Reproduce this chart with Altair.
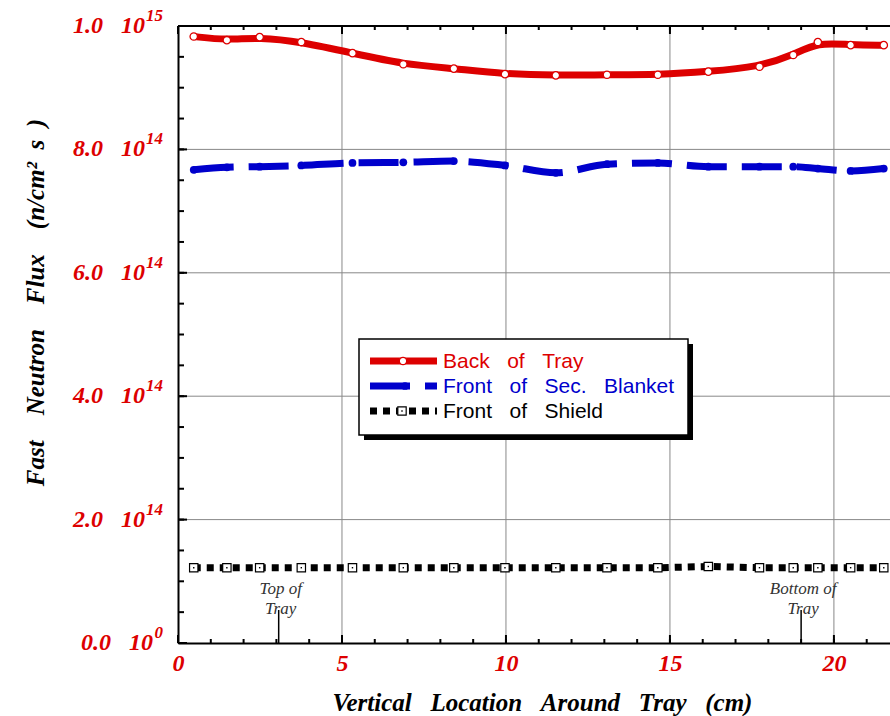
import altair as alt
import pandas as pd

# ---------------- data ----------------
x_pos = [0.48, 1.49, 2.49, 3.76, 5.32, 6.87, 8.41, 9.97, 11.52, 13.08,
         14.63, 16.17, 17.73, 18.76, 19.51, 20.51, 21.52]
# flux in units of 1e14 n/cm^2 s
back_tray = [9.83, 9.77, 9.82, 9.74, 9.56, 9.38, 9.31, 9.22, 9.20, 9.21,
             9.21, 9.26, 9.34, 9.53, 9.74, 9.69, 9.69]
front_blanket = [7.67, 7.71, 7.72, 7.74, 7.78, 7.79, 7.81, 7.74, 7.62, 7.76,
                 7.78, 7.72, 7.72, 7.72, 7.69, 7.65, 7.69]
front_shield = [1.22, 1.22, 1.22, 1.22, 1.22, 1.22, 1.22, 1.22, 1.22, 1.22,
                1.22, 1.24, 1.22, 1.22, 1.22, 1.22, 1.22]

NB2 = "\u00a0\u00a0"
NB3 = "\u00a0\u00a0\u00a0"
NB4 = "\u00a0\u00a0\u00a0\u00a0"
series_names = ["Back" + NB3 + "of" + NB3 + "Tray",
                "Front" + NB3 + "of" + NB3 + "Sec." + NB3 + "Blanket",
                "Front" + NB3 + "of" + NB3 + "Shield"]
series_colors = ["#dd0000", "#0000cc", "#000000"]

x_major = [0, 5, 10, 15, 20]
x_minor = [0, 1, 2, 3, 4, 5, 6, 7, 8, 9, 10, 11, 12, 13, 14, 15, 16, 17, 18, 19, 20, 21]
x_grid = [5, 10, 15, 20]
y_major = [0, 2, 4, 6, 8, 10]
y_mant = ["0.0", "2.0", "4.0", "6.0", "8.0", "1.0"]
y_exp = ["0", "14", "14", "14", "14", "15"]
y_minor = [0, 0.5, 1, 1.5, 2, 2.5, 3, 3.5, 4, 4.5, 5, 5.5, 6, 6.5, 7, 7.5, 8, 8.5,
           9, 9.5, 10]
y_grid = [2, 4, 6, 8]

ann_x = [3.07, 19.0]
ann_line1 = ["Top of", "Bottom of"]
ann_line2 = ["Tray", "Tray"]

x_title = "Vertical" + NB3 + "Location" + NB3 + "Around" + NB3 + "Tray" + NB3 + "(cm)"
y_title = "Fast" + NB4 + "Neutron" + NB4 + "Flux" + NB4 + "(n/cm\u00b2" + NB2 + "s" + NB2 + ")"

W, H = 712, 617
SERIF = "Liberation Serif"
SANS = "Liberation Sans"
RED = "#dd0000"

# ---------------- scales / axes ----------------
xscale = alt.Scale(domain=[0, 21.71], nice=False, zero=False)
yscale = alt.Scale(domain=[0, 10], nice=False, zero=False)

xaxis = alt.Axis(values=x_major, ticks=False, grid=False, domainColor="black",
                 domainWidth=2, labelFont=SERIF, labelFontSize=24,
                 labelFontStyle="italic", labelFontWeight="bold", labelColor=RED,
                 labelPadding=8, labelFlush=False, title=x_title, titleFont=SERIF,
                 titleFontSize=25, titleFontStyle="italic", titleFontWeight="bold",
                 titleColor="black", titleX=364, titleY=67, titleAlign="center",
                 titleBaseline="alphabetic", titleAnchor="middle")
yaxis = alt.Axis(values=y_major, labels=False, ticks=False, grid=False,
                 domainColor="black", domainWidth=2,
                 title=y_title, titleFont=SERIF,
                 titleFontSize=25, titleFontStyle="italic", titleFontWeight="bold",
                 titleColor="black", titleX=-135, titleY=276, titleAngle=-90,
                 titleAlign="center", titleBaseline="alphabetic")

X = alt.X("x:Q", scale=xscale, axis=xaxis)
Y = alt.Y("y:Q", scale=yscale, axis=yaxis)

one = alt.Data(values=[{"a": 0}])

# ---------------- grid & ticks ----------------
vgrid = alt.Chart(pd.DataFrame({"x": x_grid})).mark_rule(color="#888888", strokeWidth=1).encode(x=X)
hgrid = alt.Chart(pd.DataFrame({"y": y_grid})).mark_rule(color="#888888", strokeWidth=1).encode(y=Y)

df_xmin = pd.DataFrame({"x": x_minor})
df_xmaj = pd.DataFrame({"x": x_major})
df_ymin = pd.DataFrame({"y": y_minor})
df_ymaj = pd.DataFrame({"y": y_major})

tick_style = dict(color="black", strokeWidth=2)
bot_min = alt.Chart(df_xmin).mark_rule(**tick_style).encode(x=X, y=alt.value(H), y2=alt.value(H - 4))
bot_maj = alt.Chart(df_xmaj).mark_rule(**tick_style).encode(x=X, y=alt.value(H), y2=alt.value(H - 8))
top_min = alt.Chart(df_xmin).mark_rule(**tick_style).encode(x=X, y=alt.value(0), y2=alt.value(4))
top_maj = alt.Chart(df_xmaj).mark_rule(**tick_style).encode(x=X, y=alt.value(0), y2=alt.value(8))
left_min = alt.Chart(df_ymin).mark_rule(**tick_style).encode(y=Y, x=alt.value(0), x2=alt.value(6))
left_maj = alt.Chart(df_ymaj).mark_rule(**tick_style).encode(y=Y, x=alt.value(0), x2=alt.value(9))
top_line = alt.Chart(one).mark_rule(color="black", strokeWidth=2).encode(
    x=alt.value(0), x2=alt.value(W), y=alt.value(0))

# y tick labels: mantissa x 10 with a raised exponent
df_ylab = pd.DataFrame({"y": y_major, "m": y_mant, "e": y_exp})
lab_style = dict(font=SERIF, fontStyle="italic", fontWeight="bold", color=RED,
                 baseline="alphabetic")
ylab_main2 = alt.Chart(df_ylab).transform_filter("length(datum.e) == 2").transform_calculate(
    t="datum.m + '\u00a0\u00a0\u00a010'").mark_text(
    align="right", fontSize=24, dy=7, **lab_style).encode(
    y=Y, x=alt.value(-33), text="t:N")
ylab_main1 = alt.Chart(df_ylab).transform_filter("length(datum.e) == 1").transform_calculate(
    t="datum.m + '\u00a0\u00a0\u00a010'").mark_text(
    align="right", fontSize=24, dy=7, **lab_style).encode(
    y=Y, x=alt.value(-25), text="t:N")
ylab_exp = alt.Chart(df_ylab).mark_text(align="right", fontSize=17, dy=-5, **lab_style).encode(
    y=Y, x=alt.value(-15), text="e:N")

# ---------------- series ----------------
df_red = pd.DataFrame({"x": x_pos, "y": back_tray})
df_blue = pd.DataFrame({"x": x_pos, "y": front_blanket})
df_black = pd.DataFrame({"x": x_pos, "y": front_shield})

red_line = alt.Chart(df_red).mark_line(color=series_colors[0], strokeWidth=7,
                                       interpolate="basis").encode(x=X, y=Y)
red_pts = alt.Chart(df_red).mark_point(shape="circle", filled=True, fill="white",
                                       stroke=series_colors[0], strokeWidth=1.3,
                                       size=55, opacity=1).encode(x=X, y=Y)
blue_line = alt.Chart(df_blue).mark_line(color=series_colors[1], strokeWidth=7,
                                         strokeDash=[40, 15], interpolate="monotone").encode(x=X, y=Y)
blue_pts = alt.Chart(df_blue).mark_point(shape="circle", filled=True,
                                         color=series_colors[1], size=60, opacity=1).encode(x=X, y=Y)
black_line = alt.Chart(df_black).mark_line(color="black", strokeWidth=7, strokeDash=[7, 6],
                                           strokeCap="butt").encode(x=X, y=Y)
black_pts = alt.Chart(df_black).mark_point(shape="square", filled=True, fill="white",
                                           stroke="black", strokeWidth=1.2, size=70,
                                           opacity=1).encode(x=X, y=Y)
black_dots = alt.Chart(df_black).mark_point(shape="square", filled=True, color="black",
                                            size=2, opacity=1).encode(x=X, y=Y)

# ---------------- annotations ----------------
df_ann = pd.DataFrame({"x": ann_x, "t1": ann_line1, "t2": ann_line2})
ann_rule = alt.Chart(df_ann).mark_rule(color="black", strokeWidth=1.5).encode(
    x=X, y=alt.value(H - 33), y2=alt.value(H))
ann_t1 = alt.Chart(df_ann).mark_text(font=SERIF, fontSize=17, fontStyle="italic",
                                     color="#333333", dx=2, baseline="middle").encode(
    x=X, y=alt.value(H - 54), text="t1:N")
ann_t2 = alt.Chart(df_ann).mark_text(font=SERIF, fontSize=17, fontStyle="italic",
                                     color="#333333", dx=2, baseline="middle").encode(
    x=X, y=alt.value(H - 34), text="t2:N")

# ---------------- legend ----------------
LX0, LX1, LY0, LY1 = 181, 510, 313, 409
shadow = alt.Chart(one).mark_rect(color="black").encode(
    x=alt.value(LX0 + 5), x2=alt.value(LX1 + 5), y=alt.value(LY0 + 5), y2=alt.value(LY1 + 5))
box = alt.Chart(one).mark_rect(fill="white", stroke="black", strokeWidth=1.5).encode(
    x=alt.value(LX0), x2=alt.value(LX1), y=alt.value(LY0), y2=alt.value(LY1))

rows = [335, 360, 385]
leg = [shadow, box]
leg.append(alt.Chart(one).mark_rule(color=series_colors[0], strokeWidth=7).encode(
    x=alt.value(192), x2=alt.value(259), y=alt.value(rows[0])))
leg.append(alt.Chart(one).mark_point(shape="circle", filled=True, fill="white",
                                     stroke=series_colors[0], strokeWidth=1.3, size=55,
                                     opacity=1).encode(x=alt.value(225), y=alt.value(rows[0])))
leg.append(alt.Chart(one).mark_rule(color=series_colors[1], strokeWidth=7,
                                    strokeDash=[40, 15]).encode(
    x=alt.value(192), x2=alt.value(259), y=alt.value(rows[1])))
leg.append(alt.Chart(one).mark_point(shape="circle", filled=True, color=series_colors[1],
                                     size=60, opacity=1).encode(x=alt.value(227), y=alt.value(rows[1])))
leg.append(alt.Chart(one).mark_rule(color="black", strokeWidth=7, strokeDash=[7, 6],
                                    strokeCap="butt").encode(
    x=alt.value(192), x2=alt.value(259), y=alt.value(rows[2])))
leg.append(alt.Chart(one).mark_point(shape="square", filled=True, fill="white", stroke="black",
                                     strokeWidth=1.2, size=70, opacity=1).encode(
    x=alt.value(224), y=alt.value(rows[2])))
leg.append(alt.Chart(one).mark_point(shape="square", filled=True, color="black", size=2,
                                     opacity=1).encode(x=alt.value(224), y=alt.value(rows[2])))
for name, col, ry in zip(series_names, series_colors, rows):
    leg.append(alt.Chart(one).mark_text(font=SANS, fontSize=21, color=col, align="left",
                                        baseline="middle").encode(
        x=alt.value(265), y=alt.value(ry + 1), text=alt.value(name)))

chart = alt.layer(
    vgrid, hgrid, bot_min, bot_maj, top_min, top_maj, left_min, left_maj, top_line,
    ylab_main2, ylab_main1, ylab_exp,
    black_line, black_pts, black_dots, blue_line, blue_pts, red_line, red_pts,
    ann_rule, ann_t1, ann_t2, *leg
).properties(
    width=W, height=H,
    padding={"left": 178, "top": 26, "right": 0, "bottom": 73},
    autosize=alt.AutoSizeParams(type="none"),
    background="white",
).configure_view(stroke=None)

chart.save("out.html", embed_options={"renderer": "svg", "actions": False})
